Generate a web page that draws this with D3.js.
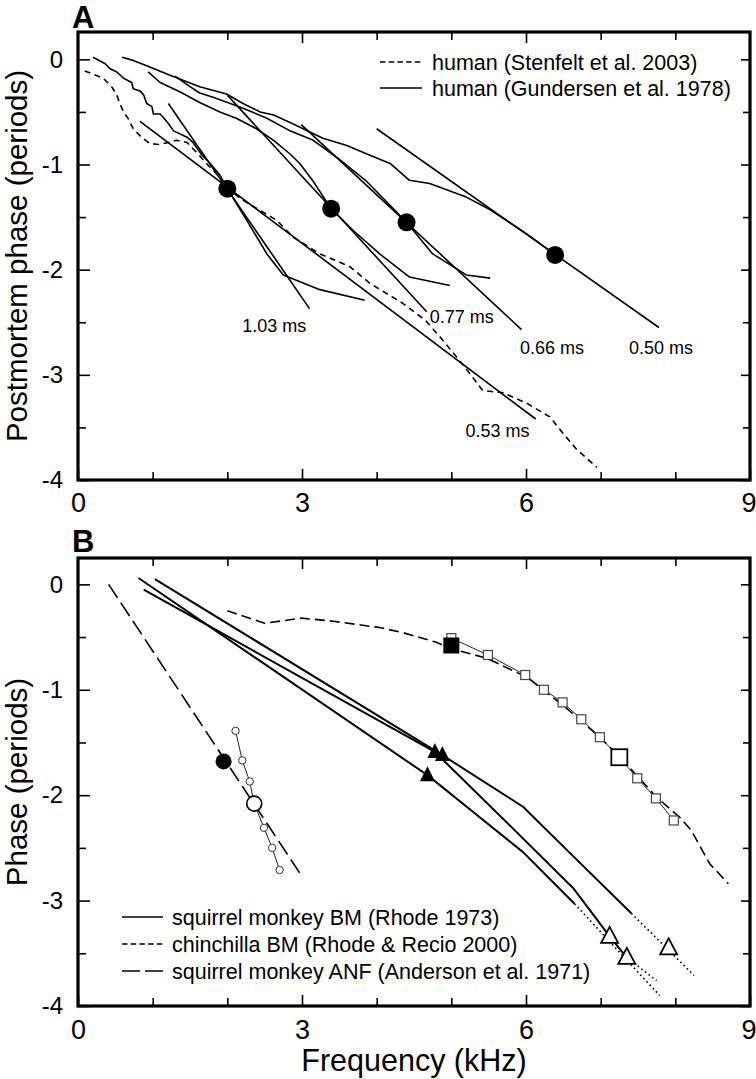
<!DOCTYPE html>
<html>
<head>
<meta charset="utf-8">
<script src="https://cdn.jsdelivr.net/npm/d3@7"></script>
<style>
body { margin: 0; background: #fff; }
svg { display: block; font-family: "Liberation Sans", Arial, sans-serif; }
</style>
</head>
<body>
<svg id="chart" width="756" height="1079"></svg>
<script>
// ---------- panel A: postmortem phase ----------
var stenfeltX = [0.09, 0.2, 0.34, 0.45, 0.52, 0.56, 0.61, 0.67, 0.74, 0.85, 0.96, 1.08, 1.21, 1.32, 1.46, 1.54, 1.61, 1.72, 1.9, 2.0, 2.21, 2.66, 2.88, 3.24, 3.64, 3.91, 4.35, 4.65, 4.85, 5.07, 5.25, 5.42, 5.69, 6.01, 6.32, 6.5, 6.68, 6.95];
var stenfeltY = [-0.11, -0.14, -0.18, -0.26, -0.34, -0.42, -0.5, -0.56, -0.66, -0.74, -0.8, -0.81, -0.79, -0.77, -0.79, -0.85, -0.9, -0.99, -1.12, -1.23, -1.34, -1.53, -1.69, -1.85, -1.97, -2.13, -2.32, -2.48, -2.64, -2.83, -2.99, -3.15, -3.17, -3.27, -3.4, -3.56, -3.71, -3.88];

// Gundersen measured curves, one per filled dot
var gund1X = [0.2, 0.36, 0.43, 0.52, 0.61, 0.72, 0.74, 0.83, 0.88, 0.92, 0.99, 1.01, 1.1, 1.14, 1.21, 1.28, 1.46, 1.54, 1.66, 1.77, 1.9, 2.0, 2.26, 2.53, 2.75, 3.24, 3.84];
var gund1Y = [0.02, -0.04, -0.09, -0.12, -0.18, -0.22, -0.28, -0.3, -0.34, -0.42, -0.45, -0.52, -0.52, -0.55, -0.61, -0.68, -0.74, -0.79, -0.91, -0.99, -1.1, -1.23, -1.53, -1.85, -2.05, -2.19, -2.29];
var gund2X = [0.94, 1.1, 1.37, 1.63, 1.9, 2.12, 2.39, 2.62, 2.84, 2.97, 3.15, 3.39, 3.69, 4.04, 4.44, 4.98];
var gund2Y = [-0.12, -0.22, -0.31, -0.41, -0.5, -0.56, -0.66, -0.77, -0.9, -0.99, -1.16, -1.42, -1.63, -1.85, -2.07, -2.15];
var gund3X = [1.3, 1.5, 1.63, 1.81, 2.04, 2.26, 2.53, 2.84, 3.15, 3.5, 3.85, 4.1, 4.4, 4.75, 5.2, 5.52];
var gund3Y = [-0.16, -0.26, -0.32, -0.36, -0.42, -0.48, -0.56, -0.68, -0.77, -0.95, -1.15, -1.33, -1.55, -1.85, -2.05, -2.08];
var gund4X = [0.59, 0.74, 0.92, 1.19, 1.63, 1.99, 2.21, 2.44, 2.62, 2.84, 3.28, 3.6, 3.87, 4.18, 4.44, 4.71, 5.2, 5.52, 6.01, 6.39];
var gund4Y = [0.02, -0.01, -0.06, -0.14, -0.26, -0.33, -0.42, -0.5, -0.53, -0.6, -0.75, -0.82, -0.9, -0.99, -1.15, -1.18, -1.31, -1.43, -1.66, -1.86];

// straight group-delay fits (end points) and their labels
var fitLabels = ["1.03 ms", "0.53 ms", "0.77 ms", "0.66 ms", "0.50 ms"];
var fitX1 = [1.21, 0.83, 2.0, 2.99, 4.0];
var fitY1 = [-0.42, -0.59, -0.34, -0.62, -0.66];
var fitX2 = [3.1, 6.13, 4.67, 5.94, 7.78];
var fitY2 = [-2.37, -3.42, -2.40, -2.57, -2.55];

var dotX = [2.0, 3.39, 4.4, 6.39];
var dotY = [-1.23, -1.42, -1.55, -1.86];

// ---------- panel B: phase ----------
var bm1X = [1.03, 4.88, 5.96, 6.59, 7.41];
var bm1Y = [0.05, -1.62, -2.11, -2.55, -3.12];
var bm2X = [0.88, 4.78, 5.83, 6.63, 7.12, 7.35];
var bm2Y = [-0.05, -1.59, -2.32, -2.88, -3.34, -3.54];
var bm3X = [0.81, 4.68, 5.38, 5.96, 6.65];
var bm3Y = [0.06, -1.81, -2.21, -2.54, -3.03];
// dotted extrapolations (start, end)
var extX1 = [7.41, 7.35, 6.65];
var extY1 = [-3.12, -3.54, -3.03];
var extX2 = [8.25, 7.75, 7.79];
var extY2 = [-3.71, -3.76, -3.9];

var triFillX = [4.78, 4.88, 4.68];
var triFillY = [-1.59, -1.62, -1.81];
var triOpenX = [7.12, 7.35, 7.91];
var triOpenY = [-3.34, -3.54, -3.45];

var chinX = [2.0, 2.5, 2.99, 3.42, 4.04, 4.36, 4.8, 5.0, 5.47, 6.01, 6.5, 6.99, 7.26, 7.75, 8.06, 8.21, 8.46, 8.71];
var chinY = [-0.25, -0.37, -0.32, -0.35, -0.41, -0.46, -0.55, -0.61, -0.7, -0.88, -1.15, -1.45, -1.64, -2.02, -2.21, -2.33, -2.65, -2.84];
var sqX = [5.0, 5.49, 5.99, 6.24, 6.49, 6.74, 6.99, 7.25, 7.49, 7.74, 7.98];
var sqY = [-0.51, -0.67, -0.86, -1.0, -1.12, -1.28, -1.45, -1.64, -1.84, -2.03, -2.24];
var sqFilled = [5.0, -0.58];
var sqBig = [7.25, -1.64];

var anfX = [0.41, 2.99];
var anfY = [0.0, -2.76];
var cirX = [2.11, 2.2, 2.3, 2.36, 2.49, 2.6, 2.7];
var cirY = [-1.39, -1.67, -1.87, -2.08, -2.31, -2.5, -2.71];
var cirFilled = [1.95, -1.68];
var cirBig = [2.36, -2.08];

var legendA = ["human (Stenfelt et al. 2003)", "human (Gundersen et al. 1978)"];
var legendB = ["squirrel monkey BM (Rhode 1973)", "chinchilla BM (Rhode & Recio 2000)", "squirrel monkey ANF (Anderson et al. 1971)"];

var xTicks = [0, 3, 6, 9];
var xMinor = [1, 2, 4, 5, 7, 8];
var yTicks = [-4, -3, -2, -1, 0];
var yMinor = [-3.5, -2.5, -1.5, -0.5];

// ---------- layout ----------
var svg = d3.select("#chart");
var L = 78, R = 750;
var x = d3.scaleLinear().domain([0, 9]).range([L, R]);
var yA = d3.scaleLinear().domain([-4, 0.26]).range([480, 32]);
var yB = d3.scaleLinear().domain([-4, 0.25]).range([1006, 558]);

function pts(xs, ys) { return d3.zip(xs, ys); }

function drawAxes(y, top, bottom, labelPad) {
    var g = svg.append("g");
    function strip(a) { a.select(".domain").remove(); a.attr("font-family", null).attr("font-size", null); a.selectAll("line").attr("stroke-width", 1.6); }

    g.append("g").attr("transform", "translate(0," + bottom + ")")
        .call(d3.axisBottom(x).tickValues(xTicks).tickSizeInner(-11).tickSizeOuter(0).tickPadding(labelPad).tickFormat(function(d) { return String(d); }))
        .call(strip)
        .selectAll("text").attr("font-size", 27)
        // last label sits on the page edge: keep it inside
        .filter(function(d) { return d === 9; })
        .attr("text-anchor", "end").attr("x", 6);
    g.append("g").attr("transform", "translate(0," + bottom + ")")
        .call(d3.axisBottom(x).tickValues(xMinor).tickSizeInner(-8).tickSizeOuter(0).tickFormat(""))
        .call(strip);
    g.append("g").attr("transform", "translate(0," + top + ")")
        .call(d3.axisTop(x).tickValues([3, 6]).tickSizeInner(-11).tickSizeOuter(0).tickFormat(""))
        .call(strip);
    g.append("g").attr("transform", "translate(0," + top + ")")
        .call(d3.axisTop(x).tickValues(xMinor).tickSizeInner(-8).tickSizeOuter(0).tickFormat(""))
        .call(strip);

    g.append("g").attr("transform", "translate(" + L + ",0)")
        .call(d3.axisLeft(y).tickValues(yTicks).tickSizeInner(-12).tickSizeOuter(0).tickPadding(15).tickFormat(function(d) { return String(d); }))
        .call(strip)
        .selectAll("text").attr("font-size", 24);
    g.append("g").attr("transform", "translate(" + L + ",0)")
        .call(d3.axisLeft(y).tickValues(yMinor).tickSizeInner(-8).tickSizeOuter(0).tickFormat(""))
        .call(strip);
    g.append("g").attr("transform", "translate(" + R + ",0)")
        .call(d3.axisRight(y).tickValues(yTicks).tickSizeInner(-9).tickSizeOuter(0).tickFormat(""))
        .call(strip);
    g.append("g").attr("transform", "translate(" + R + ",0)")
        .call(d3.axisRight(y).tickValues(yMinor).tickSizeInner(-7).tickSizeOuter(0).tickFormat(""))
        .call(strip);

    g.append("rect")
        .attr("x", L).attr("y", top)
        .attr("width", R - L).attr("height", bottom - top)
        .attr("fill", "none").attr("stroke", "#000").attr("stroke-width", 3.2);
}

function path(data, y, opts) {
    var line = d3.line().x(function(d) { return x(d[0]); }).y(function(d) { return y(d[1]); });
    return svg.append("path")
        .datum(data)
        .attr("d", line)
        .attr("fill", "none")
        .attr("stroke", opts.color || "#000")
        .attr("stroke-width", opts.width || 1.6)
        .attr("stroke-dasharray", opts.dash || null)
        .attr("stroke-linejoin", "round");
}

function triangle(w, h) {
    return "M0," + (-h * 0.6) + "L" + (w / 2) + "," + (h * 0.4) + "L" + (-w / 2) + "," + (h * 0.4) + "Z";
}

// ================= PANEL A =================
drawAxes(yA, 32, 480, 13);

path(pts(stenfeltX, stenfeltY), yA, { dash: "6,4.5", width: 1.6 });
[[gund1X, gund1Y], [gund2X, gund2Y], [gund3X, gund3Y], [gund4X, gund4Y]].forEach(function(c) {
    path(pts(c[0], c[1]), yA, { width: 1.6 });
});
fitLabels.forEach(function(lab, i) {
    path([[fitX1[i], fitY1[i]], [fitX2[i], fitY2[i]]], yA, { width: 1.6 });
});

svg.append("g").selectAll("circle")
    .data(pts(dotX, dotY))
    .enter().append("circle")
    .attr("cx", function(d) { return x(d[0]); })
    .attr("cy", function(d) { return yA(d[1]); })
    .attr("r", 9)
    .attr("fill", "#000");

// fit labels (anchor point in data units)
var fitLabelPos = [[2.2, -2.59], [5.19, -3.59], [4.71, -2.51], [5.92, -2.8], [7.38, -2.8]];
svg.append("g").selectAll("text")
    .data(fitLabels)
    .enter().append("text")
    .attr("x", function(d, i) { return x(fitLabelPos[i][0]); })
    .attr("y", function(d, i) { return yA(fitLabelPos[i][1]); })
    .attr("font-size", 18)
    .text(function(d) { return d; });

// legend A
var legA = svg.append("g");
legendA.forEach(function(t, i) {
    var yy = 62 + i * 26;
    legA.append("line").attr("x1", 380).attr("x2", 422).attr("y1", yy).attr("y2", yy)
        .attr("stroke", "#000").attr("stroke-width", 1.5)
        .attr("stroke-dasharray", i === 0 ? "5.5,3.2" : null);
    legA.append("text").attr("x", 432).attr("y", yy + 8).attr("font-size", 21.5).text(t);
});

svg.append("text").attr("x", 72).attr("y", 28).attr("font-size", 31).attr("font-weight", "bold").text("A");
svg.append("text")
    .attr("transform", "translate(27," + ((32 + 480) / 2) + ") rotate(-90)")
    .attr("text-anchor", "middle").attr("font-size", 29.5)
    .text("Postmortem phase (periods)");

// ================= PANEL B =================
drawAxes(yB, 558, 1006, 14);

// chinchilla
path(pts(chinX, chinY), yB, { dash: "10,5", width: 1.6 });
path(pts(sqX, sqY), yB, { width: 1, color: "#222" });
svg.append("g").selectAll("rect")
    .data(pts(sqX, sqY))
    .enter().append("rect")
    .attr("x", function(d) { return x(d[0]) - 4.5; })
    .attr("y", function(d) { return yB(d[1]) - 4.5; })
    .attr("width", 9).attr("height", 9)
    .attr("fill", "#fff").attr("stroke", "#444").attr("stroke-width", 1.2);
svg.append("rect")
    .attr("x", x(sqFilled[0]) - 8).attr("y", yB(sqFilled[1]) - 8)
    .attr("width", 16).attr("height", 16).attr("fill", "#000");
svg.append("rect")
    .attr("x", x(sqBig[0]) - 8).attr("y", yB(sqBig[1]) - 8)
    .attr("width", 16).attr("height", 16)
    .attr("fill", "#fff").attr("stroke", "#000").attr("stroke-width", 1.8);

// squirrel monkey BM
[[bm1X, bm1Y], [bm2X, bm2Y], [bm3X, bm3Y]].forEach(function(c) {
    path(pts(c[0], c[1]), yB, { width: 2 });
});
extX1.forEach(function(v, i) {
    path([[extX1[i], extY1[i]], [extX2[i], extY2[i]]], yB, { width: 1.6, dash: "1.6,3" });
});
svg.append("g").selectAll("path")
    .data(pts(triFillX, triFillY))
    .enter().append("path")
    .attr("transform", function(d) { return "translate(" + x(d[0]) + "," + yB(d[1]) + ")"; })
    .attr("d", triangle(15, 15))
    .attr("fill", "#000");
svg.append("g").selectAll("path")
    .data(pts(triOpenX, triOpenY))
    .enter().append("path")
    .attr("transform", function(d) { return "translate(" + x(d[0]) + "," + yB(d[1]) + ")"; })
    .attr("d", triangle(17, 16))
    .attr("fill", "#fff").attr("stroke", "#000").attr("stroke-width", 1.8);

// squirrel monkey ANF
path(pts(anfX, anfY), yB, { dash: "16,6", width: 1.6 });
path(pts(cirX, cirY), yB, { width: 1, color: "#222" });
svg.append("g").selectAll("circle")
    .data(pts(cirX, cirY))
    .enter().append("circle")
    .attr("cx", function(d) { return x(d[0]); })
    .attr("cy", function(d) { return yB(d[1]); })
    .attr("r", 3.7)
    .attr("fill", "#fff").attr("stroke", "#333").attr("stroke-width", 1);
svg.append("circle").attr("cx", x(cirFilled[0])).attr("cy", yB(cirFilled[1])).attr("r", 8).attr("fill", "#000");
svg.append("circle").attr("cx", x(cirBig[0])).attr("cy", yB(cirBig[1])).attr("r", 7.5)
    .attr("fill", "#fff").attr("stroke", "#000").attr("stroke-width", 1.6);

// legend B
var legB = svg.append("g");
var legDash = [null, "5.5,3.2", "18,5"];
legendB.forEach(function(t, i) {
    var yy = 917 + i * 27;
    legB.append("line").attr("x1", 122).attr("x2", 163).attr("y1", yy).attr("y2", yy)
        .attr("stroke", "#000").attr("stroke-width", 1.5)
        .attr("stroke-dasharray", legDash[i]);
    legB.append("text").attr("x", 172).attr("y", yy + 8).attr("font-size", 21.5).text(t);
});

svg.append("text").attr("x", 72).attr("y", 552).attr("font-size", 31).attr("font-weight", "bold").text("B");
svg.append("text")
    .attr("transform", "translate(27," + ((558 + 1006) / 2) + ") rotate(-90)")
    .attr("text-anchor", "middle").attr("font-size", 29.5)
    .text("Phase (periods)");
svg.append("text")
    .attr("x", (L + R) / 2).attr("y", 1071)
    .attr("text-anchor", "middle").attr("font-size", 30.5)
    .text("Frequency (kHz)");
</script>
</body>
</html>
